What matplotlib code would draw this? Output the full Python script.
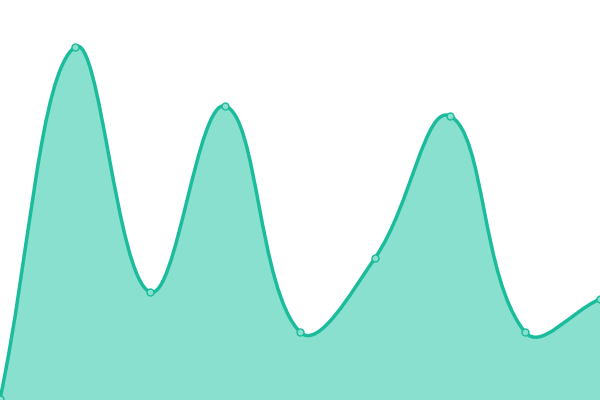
import numpy as np
import matplotlib
matplotlib.use("Agg")
import matplotlib.pyplot as plt
from matplotlib.path import Path
from matplotlib.patches import PathPatch

categories = ["A", "B", "C", "D", "E", "F", "G", "H", "I"]
values = [1, 353, 108, 294, 68, 142, 284, 68, 101]

LINE = "#1abc9c"
FILL = "#8ae0cf"

W, H = 600, 400
fig = plt.figure(figsize=(W / 100, H / 100), dpi=100)
ax = fig.add_axes([0, 0, 1, 1])
n = len(values)
ax.set_xlim(0, n - 1)
ax.set_ylim(0, 400)
ax.axis("off")

# Spline with distance-weighted control points (tension 0.4), in pixel space
sx = W / (n - 1)
P = np.array([[i * sx, v] for i, v in enumerate(values)], dtype=float)
tension = 0.4
cp_prev = []
cp_next = []
for i in range(n):
    prev = P[i - 1] if i > 0 else P[i]
    cur = P[i]
    nxt = P[i + 1] if i < n - 1 else P[i]
    d01 = np.hypot(*(cur - prev))
    d12 = np.hypot(*(nxt - cur))
    tot = d01 + d12
    s01 = d01 / tot if tot else 0
    s12 = d12 / tot if tot else 0
    fa = tension * s01
    fb = tension * s12
    c_prev = cur - fa * (nxt - prev)
    c_next = cur + fb * (nxt - prev)
    c_prev = np.clip(c_prev, [0, 0], [W, H])
    c_next = np.clip(c_next, [0, 0], [W, H])
    cp_prev.append(c_prev)
    cp_next.append(c_next)

verts = [tuple(P[0])]
codes = [Path.MOVETO]
for i in range(n - 1):
    verts += [tuple(cp_next[i]), tuple(cp_prev[i + 1]), tuple(P[i + 1])]
    codes += [Path.CURVE4] * 3
dverts = [(vx / sx, vy) for vx, vy in verts]

fill_verts = dverts + [(n - 1, 0), (0, 0), dverts[0]]
fill_codes = codes + [Path.LINETO, Path.LINETO, Path.CLOSEPOLY]
ax.add_patch(PathPatch(Path(fill_verts, fill_codes), facecolor=FILL, edgecolor="none", zorder=1))
ax.add_patch(PathPatch(Path(dverts, codes), facecolor="none", edgecolor=LINE, lw=2.5, zorder=2,
                       capstyle="round", joinstyle="round"))
ax.plot(range(n), values, "o", ms=5, mfc=FILL, mec=LINE, mew=1, zorder=3, clip_on=True)

fig.savefig("out.png", dpi=100)
